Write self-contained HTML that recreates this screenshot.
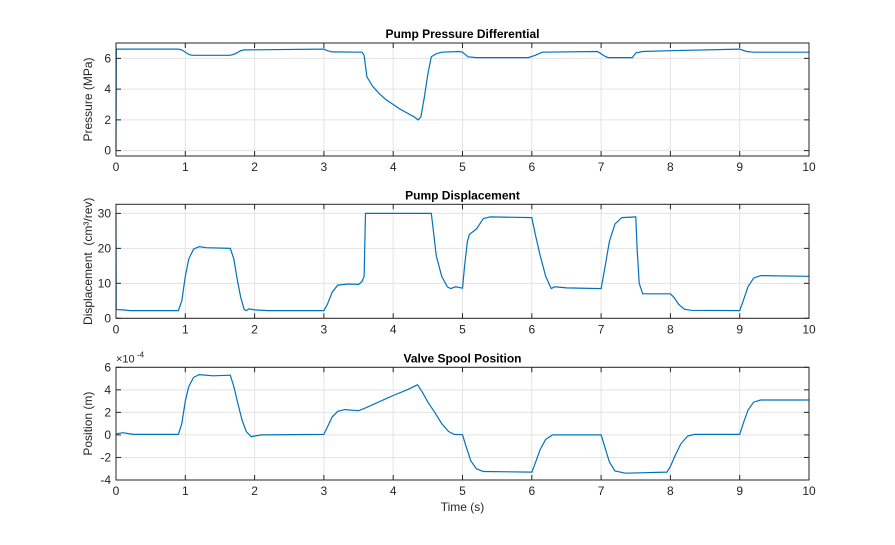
<!DOCTYPE html>
<html><head><meta charset="utf-8"><style>
body{margin:0;background:#fff;}
svg{font-family:"Liberation Sans",Arial,sans-serif;}
</style></head><body>
<svg id="s" width="895" height="540" xmlns="http://www.w3.org/2000/svg"></svg>
<script>
const S=document.getElementById('s');
const NS='http://www.w3.org/2000/svg';
function el(t,a,txt){const e=document.createElementNS(NS,t);for(const k in a)e.setAttribute(k,a[k]);if(txt!==undefined)e.textContent=txt;S.appendChild(e);return e;}
const X0=116,X1=809;
const axes=[
 {top:43,bot:156,ymin:-0.35,ymax:7,yt:[0,2,4,6],title:'Pump Pressure Differential',ylab:'Pressure (MPa)',
  d:[[0,0],[0.005,6.6],[0.9,6.6],[0.95,6.55],[1.05,6.25],[1.1,6.2],[1.65,6.2],[1.72,6.3],[1.8,6.5],[1.85,6.55],[3.0,6.6],[3.05,6.5],[3.12,6.42],[3.55,6.4],[3.58,6.2],[3.62,4.8],[3.7,4.2],[3.8,3.7],[3.9,3.3],[4.0,3.0],[4.1,2.7],[4.2,2.45],[4.3,2.2],[4.36,2.0],[4.4,2.2],[4.45,3.5],[4.5,5.0],[4.55,6.1],[4.62,6.3],[4.7,6.4],[4.95,6.45],[5.0,6.4],[5.08,6.1],[5.2,6.05],[5.95,6.05],[6.05,6.2],[6.15,6.4],[6.95,6.45],[7.05,6.15],[7.1,6.05],[7.45,6.05],[7.5,6.35],[7.6,6.45],[8,6.5],[9.0,6.6],[9.1,6.45],[9.2,6.4],[10,6.4]]},
 {top:204.3,bot:318.3,ymin:0,ymax:32.6,yt:[0,10,20,30],title:'Pump Displacement',ylab:'Displacement\u00a0 (cm³/rev)',
  d:[[0,30],[0.003,2.5],[0.1,2.4],[0.2,2.2],[0.9,2.2],[0.95,5],[1.0,12],[1.05,17],[1.12,19.8],[1.2,20.5],[1.3,20.2],[1.65,20],[1.7,17],[1.75,11],[1.8,6],[1.85,2.5],[1.88,2.2],[1.92,2.7],[2.0,2.4],[2.2,2.2],[3.0,2.2],[3.05,4],[3.12,7.5],[3.2,9.5],[3.35,9.8],[3.5,9.7],[3.55,10.5],[3.58,12],[3.6,30],[4.55,30],[4.58,25],[4.62,18],[4.7,12],[4.78,9],[4.83,8.5],[4.9,9],[5.0,8.6],[5.03,15],[5.07,22],[5.1,24],[5.2,25.5],[5.3,28.5],[5.4,29],[6.0,28.8],[6.05,24],[6.12,18],[6.2,12],[6.28,8.5],[6.33,9],[6.5,8.7],[7.0,8.5],[7.05,14],[7.12,22],[7.2,27],[7.3,28.8],[7.5,29],[7.52,20],[7.55,10],[7.6,7],[8.0,7],[8.05,6],[8.12,4],[8.2,2.6],[8.3,2.3],[9.0,2.2],[9.05,5],[9.12,9],[9.2,11.5],[9.3,12.2],[10,12]]},
 {top:367.3,bot:480,ymin:-4,ymax:6,yt:[-4,-2,0,2,4,6],title:'Valve Spool Position',ylab:'Position (m)',exp:true,
  d:[[0,0.1],[0.1,0.2],[0.25,0.05],[0.9,0.05],[0.95,1],[1.0,3],[1.05,4.3],[1.12,5.1],[1.2,5.35],[1.4,5.25],[1.65,5.3],[1.7,4.3],[1.75,3],[1.82,1.3],[1.88,0.3],[1.95,-0.15],[2.1,0],[3.0,0.05],[3.05,0.7],[3.12,1.6],[3.2,2.1],[3.3,2.25],[3.5,2.15],[3.6,2.4],[4.0,3.5],[4.2,4.0],[4.35,4.45],[4.42,3.8],[4.5,2.9],[4.6,2.0],[4.7,1.0],[4.8,0.3],[4.88,0.05],[5.0,0.02],[5.05,-1],[5.12,-2.3],[5.2,-3.0],[5.3,-3.25],[6.0,-3.3],[6.05,-2.5],[6.12,-1.3],[6.2,-0.4],[6.3,0],[7.0,0],[7.05,-1],[7.12,-2.4],[7.2,-3.2],[7.35,-3.4],[7.95,-3.3],[8.0,-2.8],[8.07,-1.8],[8.15,-0.8],[8.25,-0.1],[8.35,0.05],[9.0,0.05],[9.05,1],[9.12,2.2],[9.2,2.9],[9.3,3.1],[10,3.1]]}
];
const px=t=>X0+(X1-X0)*t/10;
axes.forEach(a=>{
 const py=v=>a.bot-(a.bot-a.top)*(v-a.ymin)/(a.ymax-a.ymin);
 for(let t=0;t<=10;t++){el('line',{x1:px(t),x2:px(t),y1:a.top,y2:a.bot,stroke:'#e3e3e3','stroke-width':1});}
 a.yt.forEach(v=>{el('line',{x1:X0,x2:X1,y1:py(v),y2:py(v),stroke:'#e3e3e3','stroke-width':1});});
 el('polyline',{points:a.d.map(p=>px(p[0]).toFixed(1)+','+py(p[1]).toFixed(1)).join(' '),fill:'none',stroke:'#0072BD','stroke-width':1.2});
 el('rect',{x:X0,y:a.top,width:X1-X0,height:a.bot-a.top,fill:'none',stroke:'#262626','stroke-width':1});
 for(let t=0;t<=10;t++){
  el('line',{x1:px(t),x2:px(t),y1:a.bot,y2:a.bot-5,stroke:'#262626'});
  el('line',{x1:px(t),x2:px(t),y1:a.top,y2:a.top+5,stroke:'#262626'});
  el('text',{x:px(t),y:a.bot+15,'text-anchor':'middle','font-size':12,fill:'#262626'},String(t));
 }
 a.yt.forEach(v=>{
  el('line',{x1:X0,x2:X0+5,y1:py(v),y2:py(v),stroke:'#262626'});
  el('line',{x1:X1,x2:X1-5,y1:py(v),y2:py(v),stroke:'#262626'});
  el('text',{x:X0-5,y:py(v)+4,'text-anchor':'end','font-size':12,fill:'#262626'},String(v));
 });
 el('text',{x:(X0+X1)/2,y:a.top-5,'text-anchor':'middle','font-size':12,'font-weight':'bold',fill:'#000'},a.title);
 const cy=(a.top+a.bot)/2;
 el('text',{x:0,y:0,transform:`translate(${X0-24},${cy}) rotate(-90)`,'text-anchor':'middle','font-size':12,fill:'#262626'},a.ylab);
 if(a.exp){el('text',{x:X0,y:a.top-5,'font-size':11,fill:'#262626'},'×10');
  el('text',{x:X0+21,y:a.top-10,'font-size':8,fill:'#262626'},'-4');}
});
el('text',{x:(X0+X1)/2,y:511,'text-anchor':'middle','font-size':12,fill:'#262626'},'Time (s)');
</script>
</body></html>
